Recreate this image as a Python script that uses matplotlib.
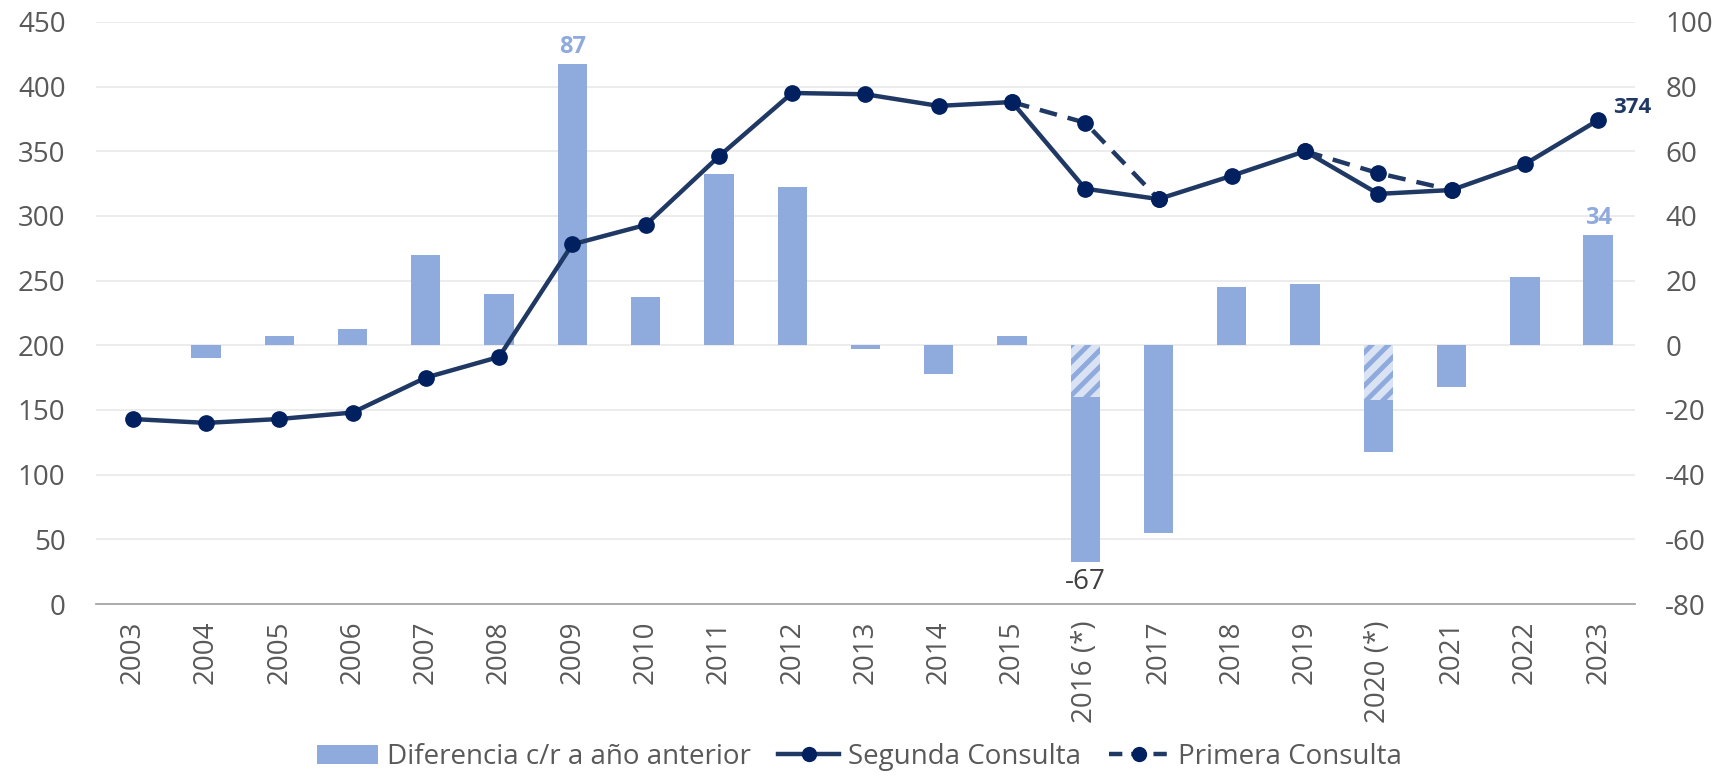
import numpy as np
import matplotlib
matplotlib.use("Agg")
import matplotlib.pyplot as plt
from matplotlib.patches import Patch
from matplotlib.lines import Line2D

years = ["2003", "2004", "2005", "2006", "2007", "2008", "2009", "2010", "2011", "2012",
         "2013", "2014", "2015", "2016 (*)", "2017", "2018", "2019", "2020 (*)", "2021",
         "2022", "2023"]
segunda = [143, 140, 143, 148, 175, 191, 278, 293, 346, 395,
           394, 385, 388, 321, 313, 331, 350, 317, 320, 340, 374]
primera = [np.nan] * 12 + [388, 372, 313, np.nan, 350, 333, 320, np.nan, np.nan]
diferencia = [np.nan, -4, 3, 5, 28, 16, 87, 15, 53, 49,
              -1, -9, 3, -67, -58, 18, 19, -33, -13, 21, 34]
dif_primera = [np.nan] * 13 + [-16, np.nan, np.nan, np.nan, -17, np.nan, np.nan, np.nan]

plt.rcParams['font.family'] = ['Open Sans', 'DejaVu Sans']
plt.rcParams['hatch.linewidth'] = 3.5
plt.rcParams['axes.unicode_minus'] = False

BAR = '#8FAADC'
NAVY = '#1F3864'
MARK = '#002060'
GRAY = '#595959'

fig = plt.figure(figsize=(17.19, 7.79), dpi=100)
ax2 = fig.add_axes([0.0559, 0.2246, 0.8951, 0.7474])
ax = ax2.twinx()
ax.yaxis.tick_left()
ax2.yaxis.tick_right()
ax.set_zorder(ax2.get_zorder() + 1)
ax.patch.set_visible(False)

x = np.arange(len(years))
w = 0.4
ax2.bar(x, diferencia, width=w, color=BAR, zorder=2)
ax2.bar(x, dif_primera, width=w, color='#DAE3F3', edgecolor=BAR, hatch='//',
        linewidth=0, zorder=3)

ax2.set_ylim(-80, 100)
ax2.set_yticks(np.arange(-80, 101, 20))
ax2.grid(axis='y', color='#EBEBEB', linewidth=1.3, zorder=0)
ax2.set_axisbelow(True)

ax.plot(x, primera, color=NAVY, linewidth=3.2, linestyle=(0, (4, 2.5)), marker='o',
        markersize=11, markerfacecolor=MARK, markeredgecolor=MARK, zorder=4)
ax.plot(x, segunda, color=NAVY, linewidth=3.2, marker='o', markersize=11,
        markerfacecolor=MARK, markeredgecolor=MARK, zorder=5)
ax.set_ylim(0, 450)
ax.set_yticks(np.arange(0, 451, 50))
ax.set_xlim(-0.5, len(years) - 0.5)

for a in (ax, ax2):
    for s in a.spines.values():
        s.set_visible(False)
    a.tick_params(axis='y', length=0, labelsize=20, labelcolor=GRAY, pad=22)
ax.spines['bottom'].set_visible(True)
ax.spines['bottom'].set_color('#A6A6A6')
ax.spines['bottom'].set_linewidth(1.3)
ax2.set_xticks(x)
ax2.set_xticklabels(years, rotation=90)
ax2.tick_params(axis='x', length=0, labelsize=20, labelcolor=GRAY, pad=12)
ax.tick_params(axis='x', which='both', bottom=False, labelbottom=False)

# annotations
ax2.text(6, 87 + 1.5, "87", ha='center', va='bottom', fontsize=17, fontweight='bold', color=BAR)
ax2.text(20, 34 + 1.5, "34", ha='center', va='bottom', fontsize=17, fontweight='bold', color=BAR)
ax2.text(13, -67 - 2, "-67", ha='center', va='top', fontsize=20, color='#404040')
ax.text(20 + 0.2, 374 + 2, "374", ha='left', va='bottom', fontsize=16, fontweight='bold', color=NAVY)

handles = [Patch(facecolor=BAR, edgecolor='none'),
           Line2D([0], [0], color=NAVY, linewidth=3.2, marker='o', markersize=10,
                  markerfacecolor=MARK, markeredgecolor=MARK),
           Line2D([0], [0], color=NAVY, linewidth=3.2, linestyle=(0, (3, 2)), marker='o',
                  markersize=10, markerfacecolor=MARK, markeredgecolor=MARK)]
labels = ["Diferencia c/r a año anterior", "Segunda Consulta", "Primera Consulta"]
leg = fig.legend(handles, labels, loc='lower center', bbox_to_anchor=(0.5, -0.022), ncol=3,
                 frameon=False, fontsize=20, handlelength=2.2, columnspacing=1.0,
                 handletextpad=0.3)
for t in leg.get_texts():
    t.set_color(GRAY)

fig.savefig("out.png", dpi=100)
